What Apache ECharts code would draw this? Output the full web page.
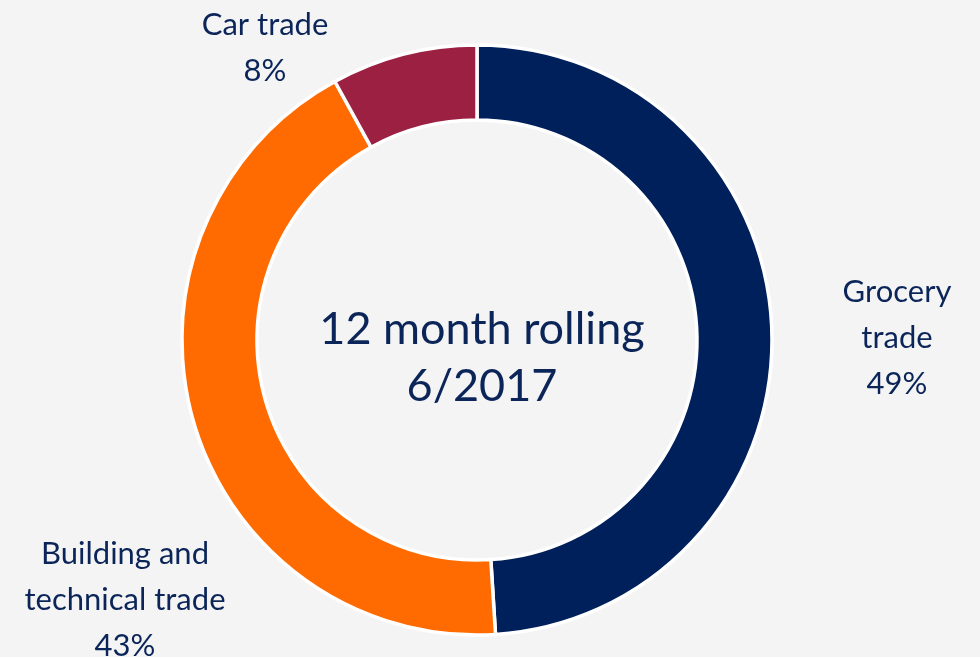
<!DOCTYPE html>
<html>
<head>
<meta charset="utf-8">
<script src="https://cdn.jsdelivr.net/npm/echarts@6/dist/echarts.min.js"></script>
<style>
  html, body { margin: 0; padding: 0; background: #f4f4f4; }
  #chart { width: 980px; height: 657px; }
</style>
</head>
<body>
<div id="chart"></div>
<script>
const categories = ['Grocery\ntrade', 'Building and\ntechnical trade', 'Car trade']
const shares = [49, 43, 8]
const colors = ['#00205b', '#ff6b00', '#9b2042']
// label anchor points (label centres), by slice
const labelPos = [[897, 338], [125, 600], [265, 48]]

const chart = echarts.init(document.getElementById('chart'))
chart.setOption({
  backgroundColor: '#f4f4f4',
  title: {
    text: '12 month rolling\n6/2017',
    left: 477,
    top: 296,
    textAlign: 'center',
    textStyle: {
      fontFamily: 'Lato',
      fontWeight: 'normal',
      fontSize: 45,
      lineHeight: 57,
      color: '#0b2559',
    },
  },
  series: [
    {
      type: 'pie',
      center: [477, 340],
      radius: [220, 295],
      startAngle: 90,
      silent: true,
      data: categories.map((name, i) => ({
        name,
        value: shares[i],
        itemStyle: { color: colors[i] },
      })),
      itemStyle: { borderColor: '#ffffff', borderWidth: 3.5 },
      label: {
        show: true,
        position: 'outside',
        formatter: (p) => p.name + '\n' + p.value + '%',
        fontFamily: 'Lato',
        fontSize: 31,
        lineHeight: 46,
        color: '#0b2559',
        align: 'center',
        overflow: 'none',
        width: 300,
      },
      labelLine: { show: false },
      labelLayout: (params) => ({
        x: labelPos[params.dataIndex][0],
        y: labelPos[params.dataIndex][1],
        align: 'center',
        verticalAlign: 'middle',
      }),
    },
  ],
})
</script>
</body>
</html>
